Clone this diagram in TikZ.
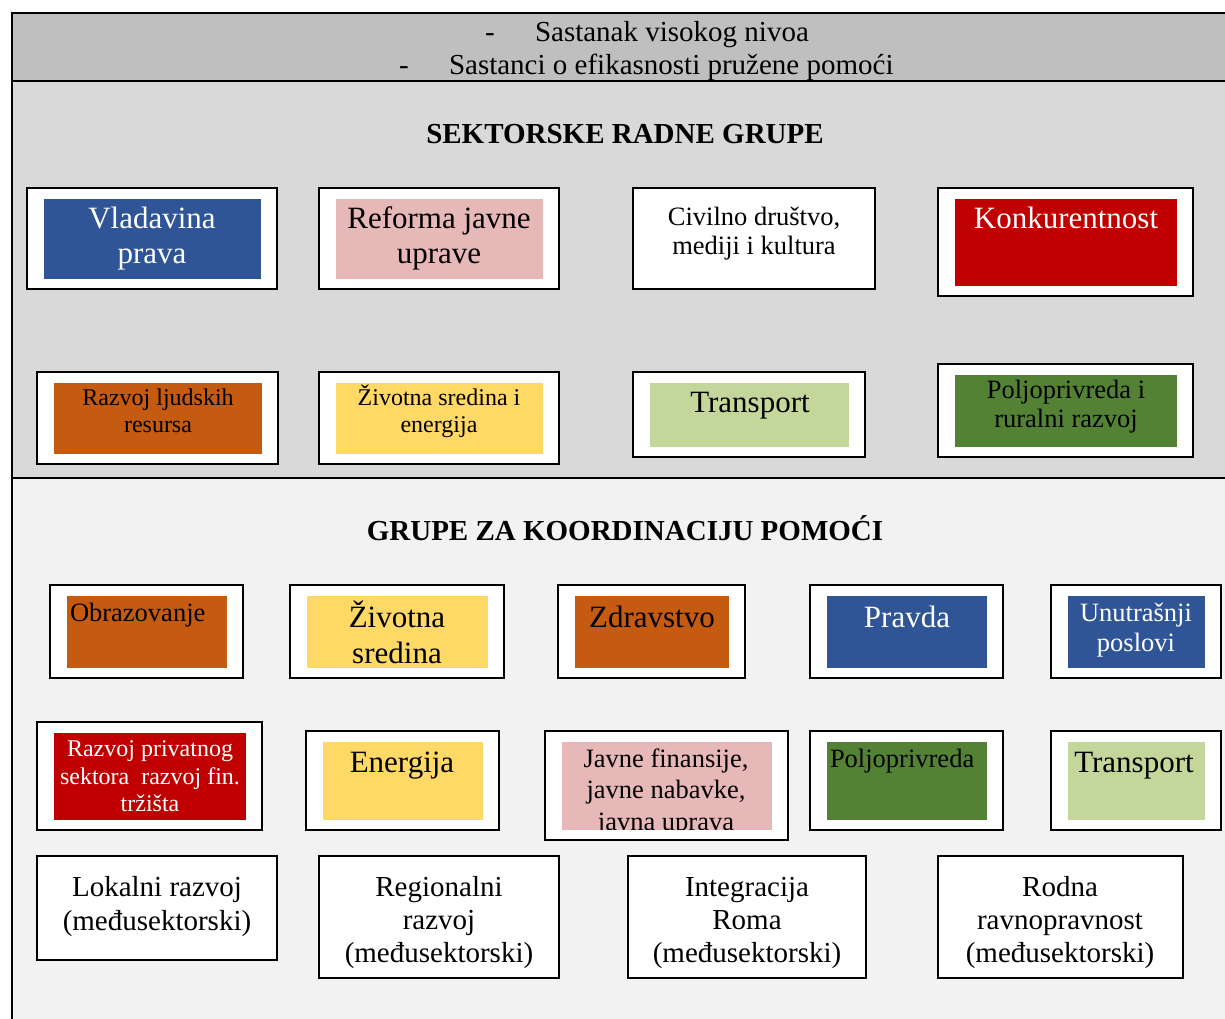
\documentclass[tikz,border=0pt]{standalone}
\usepackage{fontspec}
\setmainfont{Liberation Serif}
\definecolor{hdr}{HTML}{BFBFBF}
\definecolor{secA}{HTML}{D9D9D9}
\definecolor{secB}{HTML}{F2F2F2}
\definecolor{cblue}{HTML}{2F5597}
\definecolor{cpink}{HTML}{E6B8B7}
\definecolor{cred}{HTML}{C00000}
\definecolor{corange}{HTML}{C55A11}
\definecolor{cyellow}{HTML}{FFD966}
\definecolor{clgreen}{HTML}{C4D79B}
\definecolor{cgreen}{HTML}{548235}
\newcommand\fA{\fontsize{31}{35}\selectfont}
\newcommand\fB{\fontsize{29}{33}\selectfont}
\newcommand\fC{\fontsize{26.5}{30}\selectfont}
\newcommand\fD{\fontsize{24}{27}\selectfont}
\newcommand\fT{\fontsize{29}{33}\selectfont\bfseries}
\tikzset{
  obox/.style={draw=black, line width=1.6pt, fill=white, inner sep=0pt, rectangle},
  ibox/.style={draw=none, inner sep=0pt, rectangle},
  lbl/.style={anchor=base, inner sep=0pt, outer sep=0pt},
  frame/.style={draw=black, line width=2pt},
}
% name, x1, y1, x2, y2, fill
\newcommand\gbox[6]{%
  \node[obox, minimum width={(#4)-(#2)}, minimum height={(#5)-(#3)}] (#1) at ({((#2)+(#4))/2},{((#3)+(#5))/2}) {};
  \node[ibox, fill=#6, minimum width={(#4)-(#2)-33}, minimum height={(#5)-(#3)-21}] (#1-in) at (#1.center) {};
}
\newcommand\wbox[5]{%
  \node[obox, minimum width={(#4)-(#2)}, minimum height={(#5)-(#3)}] (#1) at ({((#2)+(#4))/2},{((#3)+(#5))/2}) {};
}
\begin{document}
\begin{tikzpicture}[x=1pt,y=-1pt]
\useasboundingbox (0,0) rectangle (1225,1019);
% backgrounds
\fill[hdr] (12,13) rectangle (1225,81);
\fill[secA] (12,81) rectangle (1225,478);
\fill[secB] (12,478) rectangle (1225,1019);
\draw[frame] (1225,13) -- (12,13) -- (12,1019);
\draw[frame] (12,81) -- (1225,81);
\draw[frame] (12,478) -- (1225,478);
% header
\node[lbl, font=\fB] (d1) at (490,42) {-};
\node[lbl, anchor=base west, font=\fB] (h1) at (535,42) {Sastanak visokog nivoa};
\node[lbl, font=\fB] (d2) at (404,75) {-};
\node[lbl, anchor=base west, font=\fB] (h2) at (449,75) {Sastanci o efikasnosti pružene pomoći};
% titles
\node[lbl, font=\fT] (t1) at (625,144) {SEKTORSKE RADNE GRUPE};
\node[lbl, font=\fT] (t2) at (625,540) {GRUPE ZA KOORDINACIJU POMOĆI};

% ---- Sektorske radne grupe, row 1
\gbox{vp}{27}{188}{277}{289}{cblue}
\node[lbl, font=\fA, text=white] (vp1) at (152,228) {Vladavina};
\node[lbl, font=\fA, text=white] (vp2) at (152,263) {prava};
\gbox{rju}{319}{188}{559}{289}{cpink}
\node[lbl, font=\fA] (rju1) at (439,228) {Reforma javne};
\node[lbl, font=\fA] (rju2) at (439,263) {uprave};
\wbox{cd}{633}{188}{875}{289}
\node[lbl, font=\fC] (cd1) at (754,225) {Civilno društvo,};
\node[lbl, font=\fC] (cd2) at (754,254) {mediji i kultura};
\gbox{ko}{938}{188}{1193}{296}{cred}
\node[lbl, font=\fA, text=white] (ko1) at (1066,228) {Konkurentnost};
% row 2
\gbox{rlr}{37}{372}{278}{464}{corange}
\node[lbl, font=\fD] (rlr1) at (158,405) {Razvoj ljudskih};
\node[lbl, font=\fD] (rlr2) at (158,432) {resursa};
\gbox{zse}{319}{372}{559}{464}{cyellow}
\node[lbl, font=\fD] (zse1) at (439,405) {Životna sredina i};
\node[lbl, font=\fD] (zse2) at (439,432) {energija};
\gbox{tr}{633}{372}{865}{457}{clgreen}
\node[lbl, font=\fA] (tr1) at (750,412) {Transport};
\gbox{prr}{938}{364}{1193}{457}{cgreen}
\node[lbl, font=\fC] (prr1) at (1066,398) {Poljoprivreda i};
\node[lbl, font=\fC] (prr2) at (1066,427) {ruralni razvoj};

% ---- Grupe za koordinaciju pomoci, row 1
\gbox{ob}{50}{585}{243}{678}{corange}
\node[lbl, anchor=base west, font=\fC] (ob1) at (70,621) {Obrazovanje};
\gbox{zs}{290}{585}{504}{678}{cyellow}
\node[lbl, font=\fA] (zs1) at (397,627) {Životna};
\node[lbl, font=\fA] (zs2) at (397,663) {sredina};
\gbox{zd}{558}{585}{745}{678}{corange}
\node[lbl, font=\fA] (zd1) at (652,627) {Zdravstvo};
\gbox{pd}{810}{585}{1003}{678}{cblue}
\node[lbl, font=\fA, text=white] (pd1) at (907,627) {Pravda};
\gbox{up}{1051}{585}{1221}{678}{cblue}
\node[lbl, font=\fC, text=white] (up1) at (1136,621) {Unutrašnji};
\node[lbl, font=\fC, text=white] (up2) at (1136,651) {poslovi};
% row 2
\gbox{rps}{37}{722}{262}{830}{cred}
\node[lbl, font=\fD, text=white] (rps1) at (150,756) {Razvoj privatnog};
\node[lbl, font=\fD, text=white] (rps2) at (150,784) {sektora\ \ razvoj fin.};
\node[lbl, font=\fD, text=white] (rps3) at (150,811) {tržišta};
\gbox{en}{306}{731}{499}{830}{cyellow}
\node[lbl, font=\fA] (en1) at (402,772) {Energija};
\gbox{jf}{545}{731}{788}{840}{cpink}
\node[lbl, font=\fC] (jf1) at (666,767) {Javne finansije,};
\node[lbl, font=\fC] (jf2) at (666,798) {javne nabavke,};
\begin{scope}
  \clip (jf-in.south west) rectangle (jf-in.north east);
  \node[lbl, font=\fC] (jf3) at (666,830) {javna uprava};
\end{scope}
\gbox{po}{810}{731}{1003}{830}{cgreen}
\node[lbl, anchor=base west, font=\fC] (po1) at (830,767) {Poljoprivreda};
\gbox{tr2}{1051}{731}{1221}{830}{clgreen}
\node[lbl, font=\fA] (tr21) at (1134,772) {Transport};
% row 3
\wbox{lr}{37}{856}{277}{960}
\node[lbl, font=\fB] (lr1) at (157,896) {Lokalni razvoj};
\node[lbl, font=\fB] (lr2) at (157,930) {(međusektorski)};
\wbox{rr}{319}{856}{559}{978}
\node[lbl, font=\fB] (rr1) at (439,896) {Regionalni};
\node[lbl, font=\fB] (rr2) at (439,929) {razvoj};
\node[lbl, font=\fB] (rr3) at (439,962) {(međusektorski)};
\wbox{ir}{628}{856}{866}{978}
\node[lbl, font=\fB] (ir1) at (747,896) {Integracija};
\node[lbl, font=\fB] (ir2) at (747,929) {Roma};
\node[lbl, font=\fB] (ir3) at (747,962) {(međusektorski)};
\wbox{rp}{938}{856}{1183}{978}
\node[lbl, font=\fB] (rp1) at (1060,896) {Rodna};
\node[lbl, font=\fB] (rp2) at (1060,929) {ravnopravnost};
\node[lbl, font=\fB] (rp3) at (1060,962) {(međusektorski)};
\end{tikzpicture}
\end{document}
